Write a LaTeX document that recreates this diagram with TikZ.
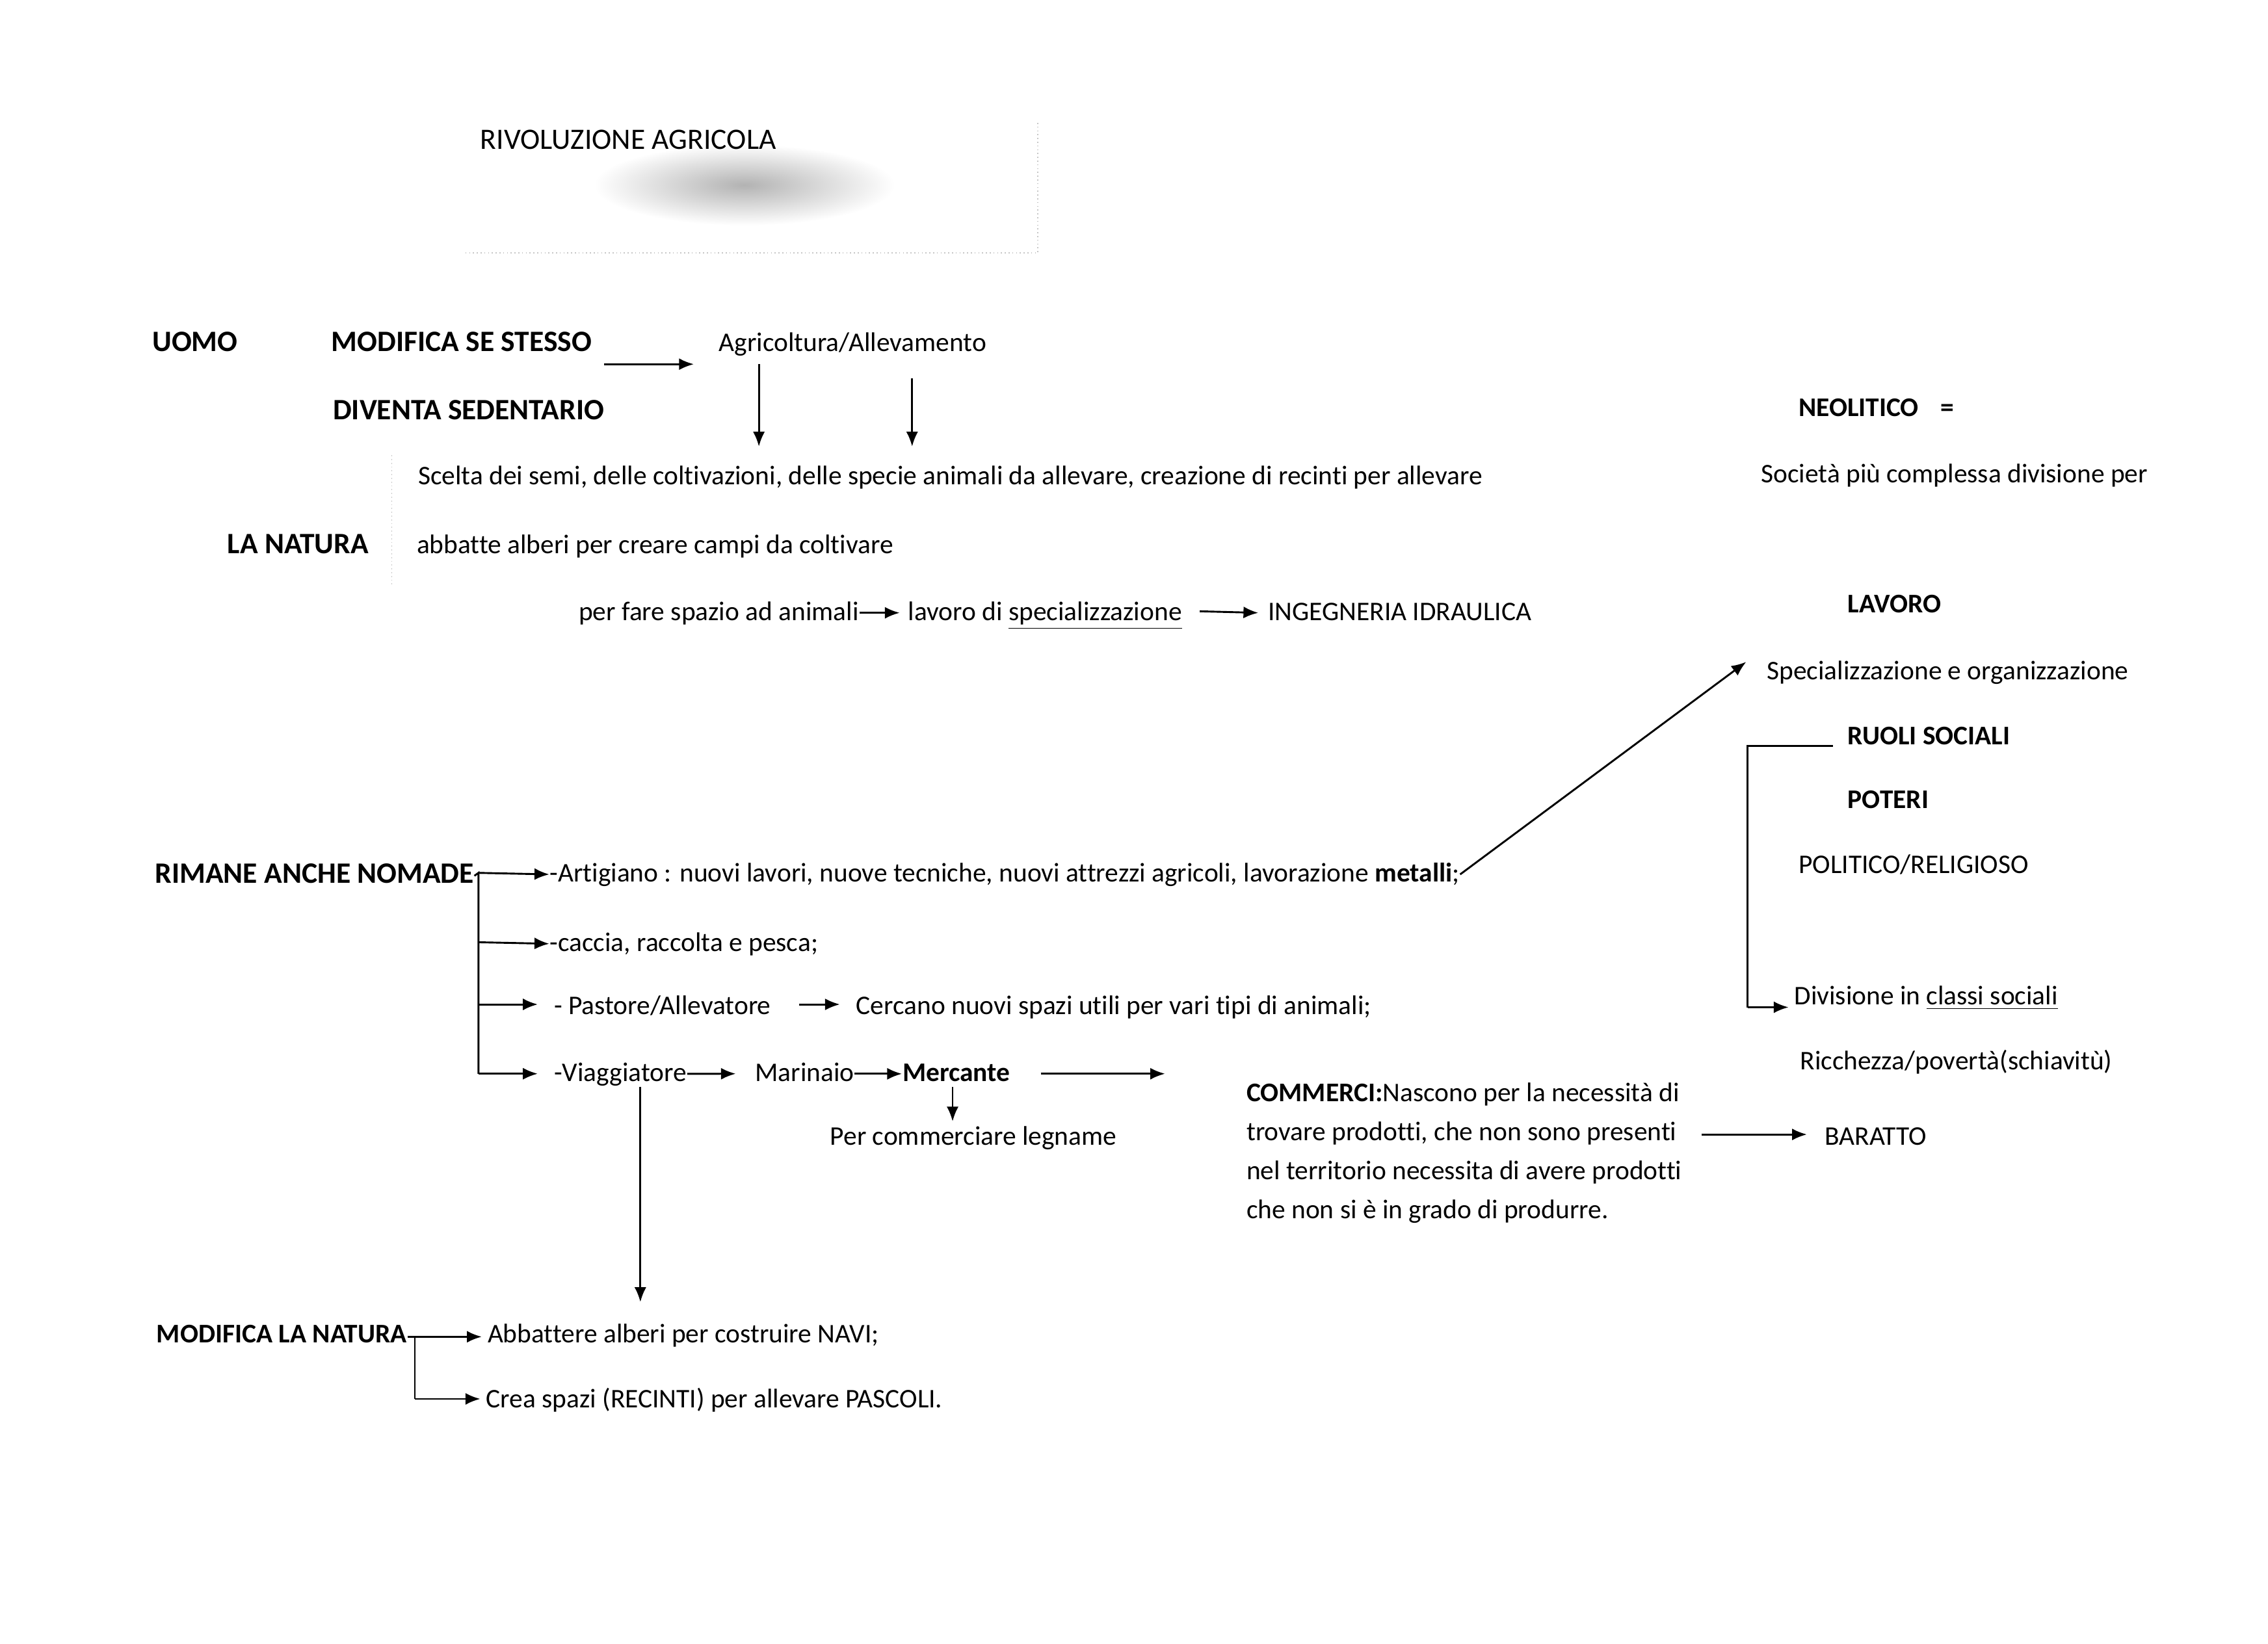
\documentclass[tikz,border=0pt]{standalone}
\usepackage{fontspec}
\setmainfont[RawFeature={-liga}]{Carlito}
\usetikzlibrary{arrows.meta}
\begin{document}
\begin{tikzpicture}[x=0.53665pt,y=-0.53665pt,
  t/.style={anchor=west, inner sep=0pt, yshift=-1.1pt, text height=1.6ex, text depth=.45ex, font=\fontsize{10pt}{12pt}\selectfont},
  b/.style={t, font=\fontsize{10pt}{12pt}\selectfont\bfseries},
  bh/.style={t, font=\fontsize{11pt}{13pt}\selectfont\bfseries},
  arr/.style={-{Latex[length=5.5pt,width=4.4pt]}, line width=0.7pt},
  ln/.style={line width=0.7pt},
  faint/.style={gray!45, line width=0.4pt, densely dotted}]
\useasboundingbox (0,0) rectangle (1569,1137.2);
% title and smudge
\shade[inner color=gray!60, outer color=white] (515,128) ellipse (104 and 28);
\node[t, font=\fontsize{11pt}{13pt}\selectfont] (title) at (332,96) {RIVOLUZIONE AGRICOLA};
\draw[faint] (322,175) -- (718,175) -- (718,85);
% top block
\node[bh] (uomo) at (105,236) {UOMO};
\node[bh] (mss) at (229,236) {MODIFICA SE STESSO};
\node[t] (agr) at (497,236) {Agricoltura/Allevamento};
\coordinate (a1s) at (418,252); \coordinate (a1e) at (480,252);
\draw[arr] (a1s) -- (a1e);
\node[bh] (div) at (230,283) {DIVENTA SEDENTARIO};
\coordinate (d1s) at (525,252); \coordinate (d1e) at (525,309);
\coordinate (d2s) at (631,262); \coordinate (d2e) at (631,309);
\draw[arr] (d1s) -- (d1e);
\draw[arr] (d2s) -- (d2e);
\node[t] (scelta) at (289,328) {Scelta dei semi, delle coltivazioni, delle specie animali da allevare, creazione di recinti per allevare};
\draw[faint] (271,315) -- (271,405);
\node[bh] (nat) at (157,376) {LA NATURA};
\node[t] (abb) at (288,376) {abbatte alberi per creare campi da coltivare};
\node[t] (pfs) at (400,422) {per fare spazio ad animali};
\node[t] (lav) at (628,422) {lavoro di \underline{specializzazione}};
\node[t] (ing) at (877,422) {INGEGNERIA IDRAULICA};
\draw[arr] (pfs.east) -- ([xshift=-3pt]lav.west);
\coordinate (i1s) at (830,423);
\draw[arr] (i1s) -- ([xshift=-3.5pt]ing.west);
% right column
\node[b] (neo) at (1244,281) {NEOLITICO\hspace{8pt}=};
\node[t] (soc) at (1218,327) {Società più complessa divisione per};
\node[b] (lavoro) at (1278,417) {LAVORO};
\node[t] (spec) at (1222,463) {Specializzazione e organizzazione};
\node[b] (ruoli) at (1278,508) {RUOLI SOCIALI};
\node[b] (poteri) at (1278,552) {POTERI};
\node[t] (pol) at (1244,597) {POLITICO/RELIGIOSO};
\node[t] (divc) at (1241,688) {Divisione in \underline{classi sociali}};
\node[t] (ric) at (1245,733) {Ricchezza/povertà(schiavitù)};
\coordinate (r1) at (1268,516); \coordinate (r2) at (1209,516); \coordinate (r3) at (1209,697);
\draw[ln] (r1) -- (r2) -- (r3);
\draw[arr] (r3) -- ([xshift=-2pt]divc.west |- r3);
% nomad block
\node[bh] (rim) at (107,604) {RIMANE ANCHE NOMADE};
\node[t] (art) at (380,603) {-Artigiano : nuovi lavori, nuove tecniche, nuovi attrezzi agricoli, lavorazione \textbf{metalli};};
\node[t] (cac) at (380,651) {-caccia, raccolta e pesca;};
\node[t] (pas) at (383,695) {- Pastore/Allevatore};
\node[t] (cer) at (592,695) {Cercano nuovi spazi utili per vari tipi di animali;};
\node[t] (via) at (383,741) {-Viaggiatore};
\node[t] (mar) at (522,741) {Marinaio};
\node[b] (mer) at (624,741) {Mercante};
\node[t] (pcl) at (574,785) {Per commerciare legname};
\coordinate (tr) at (331,604); \coordinate (tb) at (331,743);
\draw[ln] (rim.east) -- (tr) -- (tb);
\draw[arr] (tr) -- (art.west);
\draw[arr] (331,652) -- (cac.west);
\draw[arr] (331,695) -- (372,695);
\draw[arr] (tb) -- (372,743);
\draw[arr] (553,695) -- (581,695);
\draw[arr] (via.east) -- (509,743);
\draw[arr] (mar.east) -- (mer.west);
\draw[arr] (720,743) -- (806,743);
\draw[arr] (659,752) -- (659,776);
\coordinate (vd1) at (443,752); \coordinate (vd2) at (443,901);
\draw[arr] (vd1) -- (vd2);
% commerci
\node[t] (com1) at (862,755) {\textbf{COMMERCI:}Nascono per la necessità di};
\node[t] (com2) at (862,782) {trovare prodotti, che non sono presenti};
\node[t] (com3) at (862,809) {nel territorio necessita di avere prodotti};
\node[t] (com4) at (862,836) {che non si è in grado di produrre.};
\node[t] (bar) at (1262,785) {BARATTO};
\draw[arr] (1177,785) -- (1250,785);
% diagonal
\coordinate (dg) at (1208,458);
\draw[arr] (art.east) -- (dg);
% modifica la natura
\node[b] (mln) at (108,922) {MODIFICA LA NATURA};
\node[t] (abn) at (337,922) {Abbattere alberi per costruire NAVI;};
\node[t] (crea) at (336,967) {Crea spazi (RECINTI) per allevare PASCOLI.};
\coordinate (m1) at (287,925); \coordinate (m2) at (287,968);
\draw[ln] (mln.east |- m1) -- (m1);
\draw[arr] (m1) -- ([xshift=-2pt]abn.west |- m1);
\draw[ln] (m1) -- (m2);
\draw[arr] (m2) -- ([xshift=-2pt]crea.west |- m2);
\end{tikzpicture}
\end{document}
